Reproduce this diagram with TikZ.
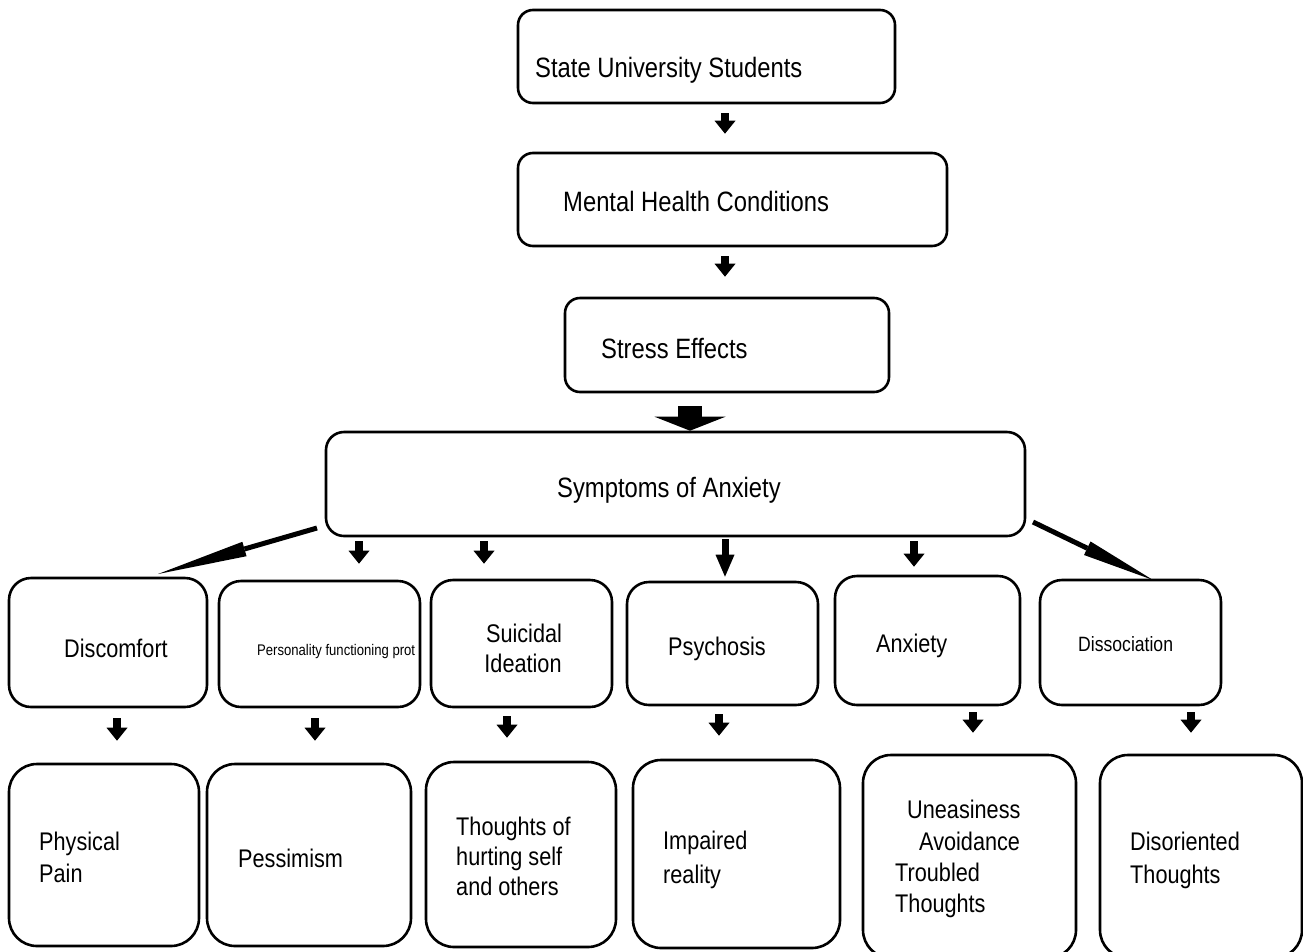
\documentclass[tikz,border=0pt]{standalone}
\usepackage{fontspec}
\setmainfont{Liberation Sans}[FakeStretch=0.85]
\usetikzlibrary{arrows.meta}
\tikzset{
  bx/.style={draw, line width=2.6pt, inner sep=0pt, rounded corners=#1},
  tmain/.style={inner sep=0pt, anchor=base west, font=\fontsize{28}{34}\selectfont},
  trow/.style={inner sep=0pt, anchor=base west, font=\fontsize{25.5}{31}\selectfont},
  sarrow/.style={line width=8.5pt, -{Triangle[length=13pt,width=21pt,line width=0pt]}},
  darrow/.style={line width=5pt, -{Triangle[length=#1,width=15pt,line width=0pt]}},
  bigarrow/.style={line width=24pt, -{Triangle[length=14pt,width=71pt,line width=0pt]}}
}
\begin{document}
\begin{tikzpicture}[x=1pt,y=-1pt]
\useasboundingbox (0,0) rectangle (1303,951);
% top chain
\node[bx=15pt, minimum width=377pt, minimum height=93pt] (state) at (706.5,56.5) {};
\node[bx=15pt, minimum width=429pt, minimum height=93pt] (mental) at (732.5,199.5) {};
\node[bx=15pt, minimum width=324pt, minimum height=94pt] (stress) at (727,345) {};
\node[bx=18pt, minimum width=699pt, minimum height=104pt] (sym) at (675.5,484) {};
\node[tmain] (stateT) at (535,77) {State University Students};
\node[tmain] (mentalT) at (563,211) {Mental Health Conditions};
\node[tmain] (stressT) at (601,358) {Stress Effects};
\node[tmain] (symT) at (557,497) {Symptoms of Anxiety};
% middle row
\node[bx=22pt, minimum width=198pt, minimum height=129pt] (disc) at (108,642.5) {};
\node[bx=22pt, minimum width=201pt, minimum height=126pt] (pers) at (319.5,644) {};
\node[bx=22pt, minimum width=181pt, minimum height=127pt] (suic) at (521.5,643.5) {};
\node[bx=22pt, minimum width=191pt, minimum height=123pt] (psy) at (722.5,643.5) {};
\node[bx=22pt, minimum width=185pt, minimum height=129pt] (anx) at (927.5,640.5) {};
\node[bx=22pt, minimum width=181pt, minimum height=125pt] (diss) at (1130.5,642.5) {};
\node[trow] (discT) at (64,657) {Discomfort};
\node[trow, font=\fontsize{15.4}{18}\selectfont] (persT) at (257,655) {Personality functioning prot};
\node[trow, anchor=base] (suicT1) at (524,642) {Suicidal};
\node[trow, anchor=base] (suicT2) at (523,672) {Ideation};
\node[trow] (psyT) at (668,655) {Psychosis};
\node[trow] (anxT) at (876,652) {Anxiety};
\node[trow, font=\fontsize{20.7}{25}\selectfont] (dissT) at (1078,651) {Dissociation};
% bottom row
\node[bx=28pt, minimum width=190pt, minimum height=182pt] (phys) at (104,855) {};
\node[bx=28pt, minimum width=204pt, minimum height=182pt] (pess) at (309,855) {};
\node[bx=28pt, minimum width=190pt, minimum height=185pt] (thou) at (521,854.5) {};
\node[bx=28pt, minimum width=207pt, minimum height=188pt] (imp) at (736.5,854) {};
\node[bx=28pt, minimum width=213pt, minimum height=203pt] (unea) at (969.5,856.5) {};
\node[bx=28pt, minimum width=202pt, minimum height=203pt] (dis) at (1201,856.5) {};
\node[trow] (physT1) at (39,850) {Physical};
\node[trow] (physT2) at (39,882) {Pain};
\node[trow] (pessT) at (238,867) {Pessimism};
\node[trow] (thouT1) at (456,835) {Thoughts of};
\node[trow] (thouT2) at (456,865) {hurting self};
\node[trow] (thouT3) at (456,895) {and others};
\node[trow] (impT1) at (663,849) {Impaired};
\node[trow] (impT2) at (663,883) {reality};
\node[trow] (uneaT1) at (907,818) {Uneasiness};
\node[trow] (uneaT2) at (919,850) {Avoidance};
\node[trow] (uneaT3) at (895,881) {Troubled};
\node[trow] (uneaT4) at (895,912) {Thoughts};
\node[trow] (disT1) at (1130,850) {Disoriented};
\node[trow] (disT2) at (1130,883) {Thoughts};
% arrow columns
\coordinate (c0) at (725,0);
\coordinate (cb) at (690,0);
\coordinate (c2) at (359,0);
\coordinate (c3) at (484,0);
\coordinate (c4) at (725,0);
\coordinate (c5) at (914,0);
\coordinate (d1) at (117,0);
\coordinate (d2) at (315,0);
\coordinate (d3) at (507,0);
\coordinate (d4) at (719,0);
\coordinate (d5) at (973,0);
\coordinate (d6) at (1191,0);
\coordinate (ls) at (317,528);
\coordinate (le) at (158,574);
\coordinate (rs) at (1033,522);
\coordinate (re) at (1153,580);
% connectors
\draw[sarrow, shorten <=9pt, shorten >=18pt] (state.south -| c0) -- (mental.north -| c0);
\draw[sarrow, shorten <=9pt, shorten >=20pt] (mental.south -| c0) -- (stress.north -| c0);
\draw[bigarrow, shorten <=13pt] (stress.south -| cb) -- (sym.north -| cb);
\draw[darrow=90pt] (ls) -- (le);
\draw[darrow=73pt] (rs) -- (re);
\draw[sarrow, shorten <=4pt, shorten >=16pt] (sym.south -| c2) -- (pers.north -| c2);
\draw[sarrow, shorten <=4pt, shorten >=15pt] (sym.south -| c3) -- (suic.north -| c3);
\draw[line width=7pt, -{Triangle[length=22pt,width=19pt,line width=0pt]}, shorten <=2pt, shorten >=4pt] (sym.south -| c4) -- (psy.north -| c4);
\draw[sarrow, shorten <=4pt, shorten >=8pt] (sym.south -| c5) -- (anx.north -| c5);
\draw[sarrow, shorten <=10pt, shorten >=22pt] (disc.south -| d1) -- (phys.north -| d1);
\draw[sarrow, shorten <=10pt, shorten >=22pt] (pers.south -| d2) -- (pess.north -| d2);
\draw[sarrow, shorten <=8pt, shorten >=23pt] (suic.south -| d3) -- (thou.north -| d3);
\draw[sarrow, shorten <=8pt, shorten >=23pt] (psy.south -| d4) -- (imp.north -| d4);
\draw[sarrow, shorten <=6pt, shorten >=21pt] (anx.south -| d5) -- (unea.north -| d5);
\draw[sarrow, shorten <=6pt, shorten >=21pt] (diss.south -| d6) -- (dis.north -| d6);
\end{tikzpicture}
\end{document}
